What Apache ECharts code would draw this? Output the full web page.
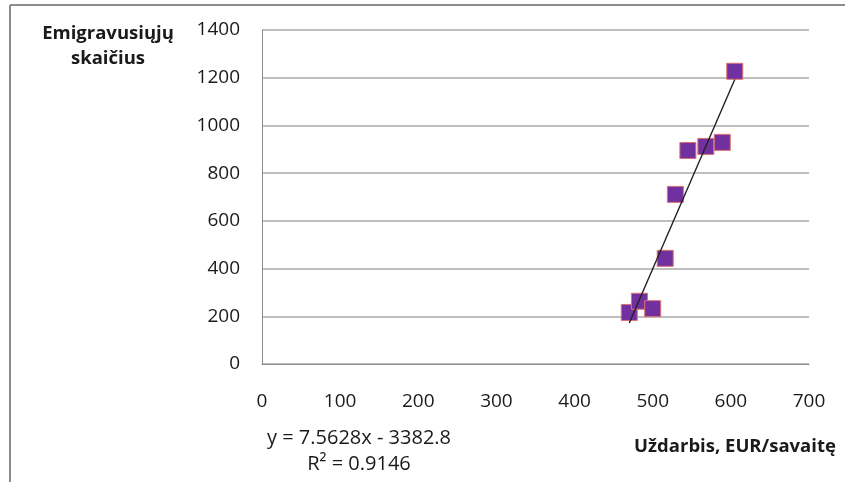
<!DOCTYPE html>
<html>
<head>
<meta charset="utf-8">
<script src="https://cdn.jsdelivr.net/npm/echarts@6/dist/echarts.min.js"></script>
<style>
html,body{margin:0;padding:0;background:#fff;}
#chart{width:845px;height:482px;}
</style>
</head>
<body>
<div id="chart"></div>
<script>
// Data
var wages = [470, 483, 500, 516, 529, 545, 568, 589, 605];
var emigrants = [216, 263, 232, 443, 711, 895, 912, 929, 1227];
var trendSlope = 7.5628;
var trendIntercept = -3382.8;
var equationText = 'y = 7.5628x - 3382.8';
var r2Text = 'R² = 0.9146';
var yAxisTitle = 'Emigravusiųjų\nskaičius';
var xAxisTitle = 'Uždarbis, EUR/savaitę';

var points = wages.map(function (w, i) { return [w, emigrants[i]]; });
var xMin = Math.min.apply(null, wages), xMax = Math.max.apply(null, wages);
var trend = [[xMin, trendSlope * xMin + trendIntercept], [xMax, trendSlope * xMax + trendIntercept]];

var font = '"Open Sans", "Noto Sans", sans-serif';
var chart = echarts.init(document.getElementById('chart'));
chart.setOption({
  animation: false,
  backgroundColor: '#ffffff',
  grid: { left: 262, right: 36, top: 30, bottom: 118 },
  xAxis: {
    type: 'value', min: 0, max: 700, interval: 100,
    axisLine: { show: true, lineStyle: { color: '#8c8c8c', width: 1 } },
    axisTick: { show: false },
    splitLine: { show: false },
    axisLabel: { color: '#1a1a1a', fontSize: 19, fontFamily: font, margin: 28, formatter: function (v) { return String(v); } }
  },
  yAxis: {
    type: 'value', min: 0, max: 1400, interval: 200,
    axisLine: { show: true, lineStyle: { color: '#8c8c8c', width: 1 } },
    axisTick: { show: false },
    splitLine: { show: true, lineStyle: { color: '#bfbfbf', width: 2 } },
    axisLabel: { color: '#1a1a1a', fontSize: 19, fontFamily: font, margin: 22, formatter: function (v) { return String(v); } }
  },
  series: [
    {
      type: 'line', data: trend, symbol: 'none', silent: true,
      lineStyle: { color: '#222222', width: 1.4 }, z: 3
    },
    {
      type: 'scatter', data: points, symbol: 'rect', symbolSize: 16,
      itemStyle: { color: '#7030A0', borderColor: '#E07070', borderWidth: 1, opacity: 1 }, z: 2
    }
  ],
  graphic: [
    { type: 'line', shape: { x1: 10, y1: 5, x2: 845, y2: 5 }, style: { stroke: '#8c8c8c', lineWidth: 2 } },
    { type: 'line', shape: { x1: 10, y1: 5, x2: 10, y2: 482 }, style: { stroke: '#8c8c8c', lineWidth: 2 } },
    { type: 'text', x: 108, y: 46, style: { text: yAxisTitle, font: 'bold 18.5px ' + font, fill: '#1a1a1a', textAlign: 'center', textVerticalAlign: 'middle', lineHeight: 25 } },
    { type: 'text', x: 735, y: 447, style: { text: xAxisTitle, font: 'bold 18.5px ' + font, fill: '#1a1a1a', textAlign: 'center', textVerticalAlign: 'middle' } },
    { type: 'text', x: 359, y: 438, style: { text: equationText, font: '20px ' + font, fill: '#1a1a1a', textAlign: 'center', textVerticalAlign: 'middle' } },
    { type: 'text', x: 359, y: 464, style: { text: r2Text, font: '20px ' + font, fill: '#1a1a1a', textAlign: 'center', textVerticalAlign: 'middle' } }
  ]
});
</script>
</body>
</html>
